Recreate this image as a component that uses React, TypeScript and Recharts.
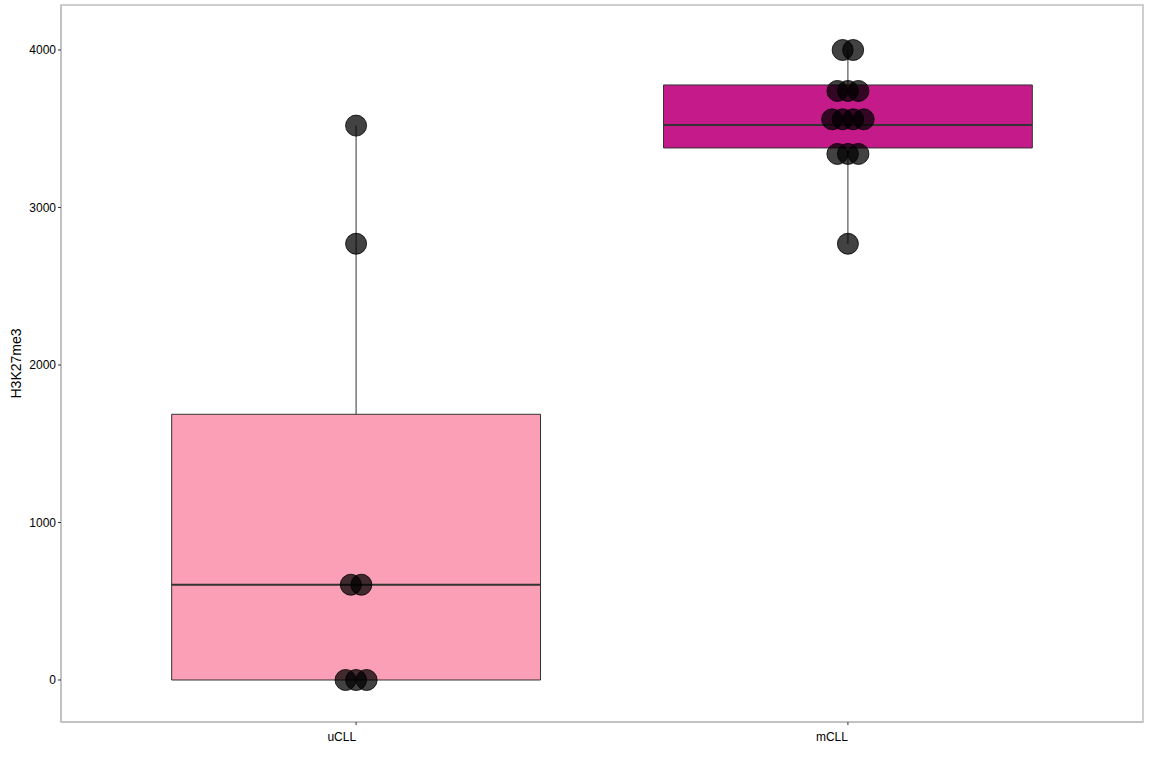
import { ComposedChart, Scatter, XAxis, YAxis, ReferenceArea, ReferenceLine } from "recharts";

const GROUPS = ["uCLL", "mCLL"];
const BOX_FILLS = ["#FA9FB5", "#C51B8A"];

// box statistics: [min, q1, median, q3, max]
const U_STATS = [0, 0, 605, 1687, 3520];
const M_STATS = [2770, 3378, 3524, 3778, 4000];

// dot-plot bins: value and count of stacked dots
const U_DOT_VALUES = [3520, 2770, 605, 0];
const U_DOT_COUNTS = [1, 1, 2, 3];
const M_DOT_VALUES = [4000, 3740, 3560, 3340, 2770];
const M_DOT_COUNTS = [2, 3, 4, 3, 1];

const Y_TICKS = [0, 1000, 2000, 3000, 4000];

const STACK_STEP = 0.0214;
const BOX_HALF = 0.375;

function buildDots(pos: number, values: number[], counts: number[]) {
  const out: { x: number; y: number }[] = [];
  values.forEach((v, i) => {
    const n = counts[i];
    for (let k = 0; k < n; k++) {
      out.push({ x: pos + (k - (n - 1) / 2) * STACK_STEP, y: v });
    }
  });
  return out;
}

const dots = [
  ...buildDots(1, U_DOT_VALUES, U_DOT_COUNTS),
  ...buildDots(2, M_DOT_VALUES, M_DOT_COUNTS),
];

const font = "'Liberation Sans', Arial, sans-serif";

export default function App() {
  const allStats = [U_STATS, M_STATS];
  return (
    <div style={{ position: "absolute", left: 0, top: 0, width: 1152, height: 768, background: "#fff" }}>
      <ComposedChart width={1152} height={768} margin={{ top: 5, right: 9, bottom: 0, left: 0 }}>
        <XAxis
          type="number"
          dataKey="x"
          domain={[0.4, 2.6]}
          ticks={[1, 2]}
          tickFormatter={(v: number) => GROUPS[Math.round(v) - 1] ?? ""}
          height={46}
          axisLine={{ stroke: "#bebebe", strokeWidth: 1.5 }}
          tickLine={{ stroke: "#333" }}
          tickSize={3}
          tickMargin={7}
          tick={{ fill: "#000", fontSize: 12, fontFamily: font, textAnchor: "end" }}
          allowDataOverflow
        />
        <YAxis
          type="number"
          dataKey="y"
          domain={[-266.7, 4285.7]}
          ticks={Y_TICKS}
          width={61}
          axisLine={{ stroke: "#bebebe", strokeWidth: 1.5 }}
          tickLine={{ stroke: "#333" }}
          tickSize={3}
          tickMargin={2}
          tick={{ fill: "#000", fontSize: 12, fontFamily: font }}
          allowDataOverflow
          label={{
            value: "H3K27me3",
            angle: -90,
            position: "insideLeft",
            offset: 16,
            style: { fill: "#000", fontSize: 14, fontFamily: font, textAnchor: "middle" },
          }}
        />
        <ReferenceArea
          x1={0.4}
          x2={2.6}
          y1={-266.7}
          y2={4285.7}
          fill="none"
          stroke="#bebebe"
          strokeWidth={1.5}
          ifOverflow="visible"
        />
        {allStats.map((s, i) => (
          <ReferenceLine
            key={"wu" + i}
            segment={[{ x: i + 1, y: s[3] }, { x: i + 1, y: s[4] }]}
            stroke="#333"
            strokeWidth={1}
          />
        ))}
        {allStats.map((s, i) => (
          <ReferenceLine
            key={"wl" + i}
            segment={[{ x: i + 1, y: s[0] }, { x: i + 1, y: s[1] }]}
            stroke="#333"
            strokeWidth={1}
          />
        ))}
        {allStats.map((s, i) => (
          <ReferenceArea
            key={"b" + i}
            x1={i + 1 - BOX_HALF}
            x2={i + 1 + BOX_HALF}
            y1={s[1]}
            y2={s[3]}
            fill={BOX_FILLS[i]}
            fillOpacity={1}
            stroke="#333"
            strokeWidth={1}
            ifOverflow="visible"
          />
        ))}
        {allStats.map((s, i) => (
          <ReferenceLine
            key={"m" + i}
            segment={[{ x: i + 1 - BOX_HALF, y: s[2] }, { x: i + 1 + BOX_HALF, y: s[2] }]}
            stroke="#333"
            strokeWidth={2}
          />
        ))}
        <Scatter
          data={dots}
          isAnimationActive={false}
          shape={(p: any) => (
            <circle cx={p.cx} cy={p.cy} r={10.5} fill="rgba(0,0,0,0.74)" stroke="#000" strokeWidth={0.8} />
          )}
        />
      </ComposedChart>
    </div>
  );
}
